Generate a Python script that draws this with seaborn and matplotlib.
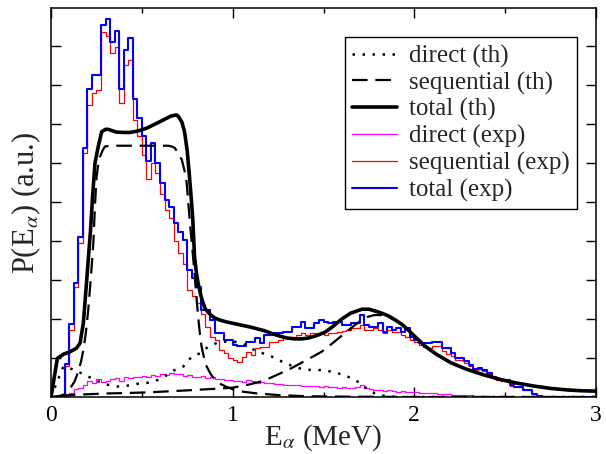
import numpy as np
import pandas as pd
import matplotlib
matplotlib.use("Agg")
import matplotlib.pyplot as plt
from matplotlib.lines import Line2D
import seaborn as sns

# histogram bins: 0 - 3 MeV, 0.025 MeV wide
bin_width = 0.025
n_bins = 120

# experimental spectra (one value per bin)
total_exp = [
    0, 0, 0, 0.85, 1.87, 2.91, 4.11, 6.38, 7.9, 8.24,
    8.24, 9.54, 9.68, 9.09, 9.39, 7.9, 8.9, 9.2, 7.63, 7.15,
    6.68, 6.05, 6.52, 6.0, 5.48, 5.05, 4.88, 4.45, 4.24, 4.03,
    3.26, 3.04, 2.83, 2.23, 2.23, 1.97, 1.63, 1.63, 1.46, 1.46,
    1.33, 1.3, 1.3, 1.42, 1.42, 1.5, 1.38, 1.59, 1.59, 1.63,
    1.63, 1.67, 1.67, 1.8, 1.8, 1.91, 1.76, 1.76, 1.89, 1.97,
    1.93, 1.9, 1.91, 1.91, 1.85, 1.85, 1.89, 1.89, 2.1, 1.85,
    1.8, 1.8, 1.89, 1.67, 1.8, 1.72, 1.76, 1.67, 1.76, 1.55,
    1.45, 1.38, 1.38, 1.38, 1.42, 1.42, 1.25, 1.25, 1.12, 0.99,
    1.0, 0.91, 0.82, 0.73, 0.75, 0.69, 0.61, 0.5, 0.46, 0.43,
    0.43, 0.3, 0.26, 0.26, 0.18, 0.18, 0.08, 0.02, 0.01, 0.01,
    0.01, 0.01, 0.01, 0.01, 0.01, 0.01, 0.01, 0.01, 0.01, 0.01,
]
seq_exp = [
    0, 0, 0, 0.8, 1.72, 2.83, 3.95, 6.26, 7.49, 7.78,
    7.87, 9.35, 9.25, 8.81, 8.97, 7.53, 8.51, 8.64, 7.1, 6.7,
    6.2, 5.6, 5.99, 5.75, 5.2, 4.8, 4.6, 4.0, 3.7, 3.4,
    2.75, 2.6, 2.4, 2.14, 1.8, 1.55, 1.46, 1.2, 1.12, 1.0,
    0.95, 0.9, 1.03, 1.16, 1.08, 1.25, 1.29, 1.29, 1.42, 1.42,
    1.46, 1.5, 1.55, 1.55, 1.59, 1.63, 1.6, 1.63, 1.63, 1.65,
    1.6, 1.63, 1.65, 1.67, 1.7, 1.72, 1.76, 1.76, 1.85, 1.72,
    1.72, 1.76, 1.73, 1.65, 1.72, 1.67, 1.67, 1.6, 1.55, 1.46,
    1.4, 1.33, 1.28, 1.25, 1.3, 1.3, 1.18, 1.1, 1.05, 0.95,
    0.95, 0.88, 0.79, 0.7, 0.72, 0.66, 0.58, 0.48, 0.44, 0.41,
    0.41, 0.29, 0.25, 0.25, 0.17, 0.17, 0.07, 0.02, 0.01, 0.01,
    0.01, 0.01, 0.01, 0.01, 0.01, 0.01, 0.01, 0.01, 0.01, 0.01,
]
direct_exp = [
    0, 0, 0, 0.03, 0.09, 0.2, 0.23, 0.3, 0.4, 0.35,
    0.45, 0.38, 0.42, 0.45, 0.48, 0.42, 0.5, 0.48, 0.52, 0.5,
    0.55, 0.5, 0.57, 0.53, 0.6, 0.56, 0.62, 0.58, 0.6, 0.55,
    0.57, 0.52, 0.5, 0.53, 0.48, 0.5, 0.45, 0.47, 0.43, 0.44,
    0.4, 0.42, 0.38, 0.43, 0.4, 0.37, 0.38, 0.35, 0.36, 0.33,
    0.34, 0.31, 0.32, 0.3, 0.31, 0.28, 0.29, 0.27, 0.28, 0.26,
    0.27, 0.25, 0.26, 0.24, 0.25, 0.23, 0.24, 0.26, 0.3, 0.22,
    0.2, 0.18, 0.19, 0.16, 0.17, 0.15, 0.14, 0.15, 0.13, 0.12,
    0.13, 0.11, 0.1, 0.11, 0.09, 0.08, 0.07, 0.08, 0.06, 0.05,
    0.05, 0.04, 0.04, 0.03, 0.03, 0.03, 0.02, 0.02, 0.02, 0.02,
    0.02, 0.01, 0.01, 0.01, 0.01, 0.01, 0.01, 0.01, 0.01, 0.01,
    0.01, 0.01, 0.01, 0.01, 0.01, 0.01, 0.01, 0.01, 0.01, 0.01,
]

# theory curves (E in MeV, P in a.u.)
total_th_e = [0.0, 0.035, 0.07, 0.105, 0.14, 0.16, 0.178, 0.19, 0.205, 0.218,
              0.229, 0.242, 0.26, 0.279, 0.30, 0.315, 0.34, 0.36, 0.40, 0.435,
              0.48, 0.527, 0.575, 0.618, 0.66, 0.69, 0.70, 0.72, 0.735, 0.75,
              0.765, 0.78, 0.79, 0.80, 0.81, 0.825, 0.838, 0.85, 0.875, 0.90,
              0.93, 0.97, 1.04, 1.10, 1.174, 1.22, 1.267, 1.30, 1.341, 1.38,
              1.415, 1.46, 1.508, 1.55, 1.601, 1.65, 1.712, 1.75, 1.786, 1.82,
              1.861, 1.90, 1.935, 1.97, 2.01, 2.06, 2.12, 2.2, 2.288, 2.38,
              2.473, 2.56, 2.659, 2.75, 2.845, 2.92, 3.0]
total_th_p = [0.0, 0.99, 1.10, 1.16, 1.25, 1.38, 1.89, 2.6, 3.51, 4.3,
              5.14, 5.99, 6.42, 6.80, 6.86, 6.86, 6.82, 6.79, 6.78, 6.78,
              6.82, 6.89, 7.0, 7.10, 7.2, 7.23, 7.2, 7.05, 6.8, 6.3,
              5.5, 4.6, 3.6, 3.2, 2.91, 2.6, 2.40, 2.25, 2.12, 2.03,
              1.97, 1.92, 1.85, 1.79, 1.70, 1.62, 1.55, 1.51, 1.49, 1.49,
              1.51, 1.57, 1.66, 1.8, 2.0, 2.15, 2.25, 2.25, 2.2, 2.15,
              2.07, 1.96, 1.85, 1.7, 1.52, 1.3, 1.10, 0.88, 0.71, 0.57,
              0.45, 0.36, 0.28, 0.22, 0.18, 0.16, 0.15]

seq1_th_e = [0.0, 0.05, 0.08, 0.105, 0.13, 0.15, 0.165, 0.178, 0.192, 0.205,
             0.22, 0.233, 0.242, 0.251, 0.26, 0.27, 0.285, 0.297, 0.33, 0.5,
             0.646, 0.665, 0.682, 0.70, 0.72, 0.735, 0.747, 0.765, 0.78, 0.79,
             0.80, 0.81, 0.82, 0.829, 0.845, 0.857, 0.88, 0.903, 0.93, 0.967,
             1.0, 1.05, 1.136, 1.25, 1.4, 1.6, 2.0, 3.0]
seq1_th_p = [0.0, 0.03, 0.08, 0.22, 0.4, 0.65, 0.9, 1.2, 1.65, 2.23,
             3.1, 3.94, 4.9, 5.65, 5.95, 6.16, 6.33, 6.42, 6.44, 6.44,
             6.44, 6.42, 6.38, 6.25, 6.08, 5.8, 5.48, 4.45, 3.7, 3.17,
             2.6, 2.06, 1.6, 1.29, 0.95, 0.78, 0.58, 0.44, 0.34, 0.26,
             0.2, 0.14, 0.09, 0.05, 0.02, 0.01, 0.0, 0.0]

seq2_th_e = [0.05, 0.1, 0.2, 0.3, 0.4, 0.54, 0.75, 0.94, 1.0, 1.09,
             1.174, 1.25, 1.32, 1.40, 1.49, 1.55, 1.60, 1.65, 1.694, 1.74,
             1.78, 1.82, 1.861, 1.90, 1.935, 1.97, 2.01, 2.06, 2.12, 2.2,
             2.288, 2.38, 2.473, 2.56, 2.659, 2.75, 2.845, 2.92, 3.0]
seq2_th_p = [0.0, 0.05, 0.07, 0.09, 0.1, 0.12, 0.17, 0.22, 0.24, 0.32,
             0.42, 0.58, 0.73, 0.93, 1.16, 1.38, 1.57, 1.76, 1.92, 2.05,
             2.1, 2.1, 2.05, 1.95, 1.85, 1.7, 1.52, 1.3, 1.10, 0.88,
             0.71, 0.57, 0.45, 0.36, 0.28, 0.22, 0.18, 0.16, 0.15]

direct_th_e = [0.0, 0.03, 0.068, 0.1, 0.132, 0.18, 0.224, 0.27, 0.315, 0.38,
               0.444, 0.49, 0.545, 0.59, 0.637, 0.68, 0.728, 0.774, 0.82, 0.866,
               0.92, 0.96, 1.02, 1.077, 1.12, 1.178, 1.23, 1.27, 1.325, 1.38,
               1.435, 1.49, 1.545, 1.6, 1.645, 1.69, 1.737, 1.783, 1.84, 1.9, 3.0]
direct_th_p = [0.0, 0.35, 0.78, 0.74, 0.69, 0.58, 0.48, 0.38, 0.31, 0.26,
               0.31, 0.35, 0.37, 0.44, 0.56, 0.69, 0.78, 1.03, 1.12, 1.29,
               1.40, 1.42, 1.41, 1.32, 1.2, 1.1, 1.01, 0.91, 0.8, 0.72,
               0.69, 0.69, 0.65, 0.58, 0.5, 0.39, 0.22, 0.09, 0.02, 0.0, 0.0]

sns.set_theme(style="ticks")
plt.rcParams["font.family"] = ["Liberation Serif", "DejaVu Serif"]
plt.rcParams["mathtext.fontset"] = "stix"

fig = plt.figure(figsize=(6.06, 4.54), dpi=100)
ax = fig.add_axes([51 / 606, 57 / 454, 545 / 606, 389 / 454])

edges = [i * bin_width for i in range(n_bins + 1)]
hist = pd.DataFrame({
    "E": [e + bin_width / 2 for e in edges[:-1]],
    "direct": direct_exp,
    "seq": seq_exp,
    "total": total_exp,
})

dotted = (0, (1, 3))
dashed = (0, (7, 3.5))

for col, color, lw in [("direct", "#ff00ff", 0.9), ("seq", "#ff0000", 0.9),
                       ("total", "#0000ff", 1.5)]:
    sns.histplot(data=hist, x="E", weights=col, bins=edges, element="step",
                 fill=False, color=color, linewidth=lw, ax=ax)

sns.lineplot(x=direct_th_e, y=direct_th_p, sort=False, estimator=None, color="black",
             linewidth=1.8, linestyle=dotted, ax=ax)
sns.lineplot(x=seq1_th_e, y=seq1_th_p, sort=False, estimator=None, color="black",
             linewidth=1.6, linestyle=dashed, ax=ax)
sns.lineplot(x=seq2_th_e, y=seq2_th_p, sort=False, estimator=None, color="black",
             linewidth=1.6, linestyle=dashed, ax=ax)
sns.lineplot(x=total_th_e, y=total_th_p, sort=False, estimator=None, color="black",
             linewidth=2.6, ax=ax)

ax.set_xlim(0, 3)
ax.set_ylim(0, 9.97)
ax.set_xticks([0, 1, 2, 3])
ax.set_xticks([0.5, 1.5, 2.5], minor=True)
ax.set_yticks(range(1, 10))
ax.set_yticklabels([])
ax.tick_params(which="both", direction="in", top=True, right=True, width=1,
               colors="black", labelsize=17)
ax.tick_params(which="major", length=7, pad=6)
ax.tick_params(which="minor", length=3.5)
for s in ax.spines.values():
    s.set_linewidth(1.1)
    s.set_color("black")

ax.set_xlabel(r"E$_\alpha$ (MeV)", fontsize=21)
ax.set_ylabel(r"P(E$_\alpha$) (a.u.)", fontsize=22)
ax.xaxis.set_label_coords(0.5, -0.066)
ax.yaxis.set_label_coords(-0.015, 0.5)

handles = [
    Line2D([], [], color="black", linewidth=1.8, linestyle=dotted),
    Line2D([], [], color="black", linewidth=1.6, linestyle=dashed),
    Line2D([], [], color="black", linewidth=2.6),
    Line2D([], [], color="#ff00ff", linewidth=0.9),
    Line2D([], [], color="#ff0000", linewidth=0.9),
    Line2D([], [], color="#0000ff", linewidth=1.5),
]
labels = ["direct (th)", "sequential (th)", "total (th)",
          "direct (exp)", "sequential (exp)", "total (exp)"]
leg = ax.legend(handles, labels, loc="upper right", bbox_to_anchor=(0.965, 0.925),
                borderaxespad=0, fontsize=18, frameon=True, fancybox=False,
                edgecolor="black", framealpha=1, handlelength=1.8,
                handletextpad=0.45, labelspacing=0.15, borderpad=0.3)
leg.get_frame().set_linewidth(1.0)

fig.savefig("out.png", dpi=100)
